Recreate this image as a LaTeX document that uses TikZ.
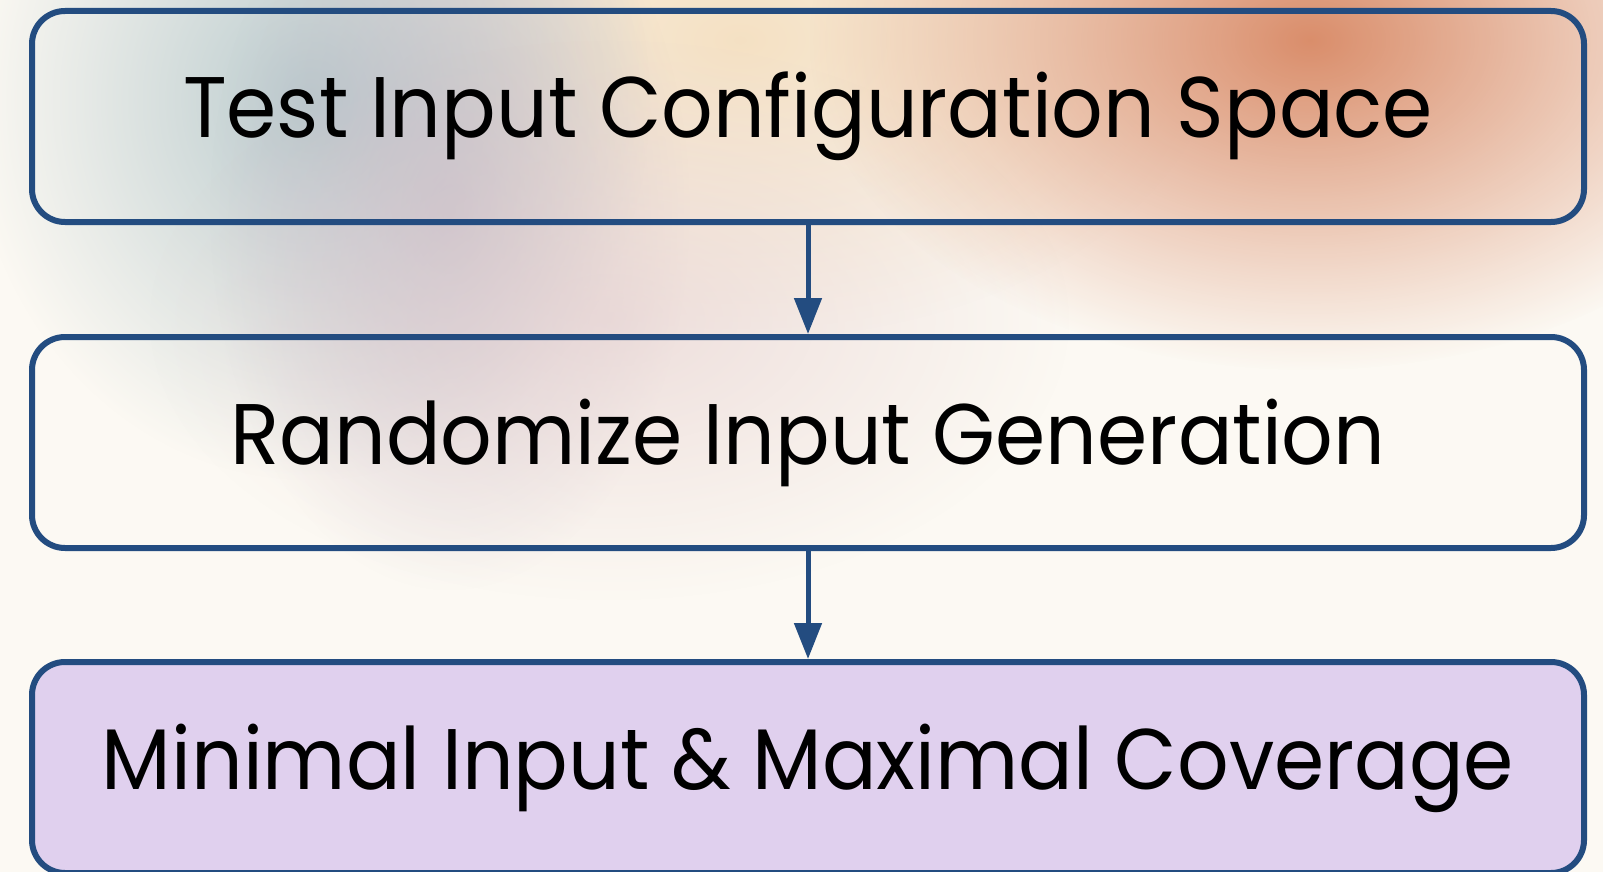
\documentclass[tikz,border=0pt]{standalone}
\usepackage{fontspec}
\setmainfont[FakeStretch=0.94]{Poppins}
\usetikzlibrary{arrows.meta,fadings}

\definecolor{paper}{RGB}{252,249,243}
\definecolor{frame}{RGB}{35,76,128}
\definecolor{lilac}{RGB}{224,208,238}
\definecolor{mist}{RGB}{176,196,200}
\definecolor{mauve}{RGB}{190,178,196}
\definecolor{blush}{RGB}{228,204,204}
\definecolor{sand}{RGB}{244,222,190}
\definecolor{clay}{RGB}{216,136,100}

% radial wash: opaque in the middle, clear towards the rim
\tikzfading[name=softblob, inner color=transparent!0, outer color=transparent!100]

\tikzset{
  stage/.style={draw=frame, line width=6pt, rounded corners=33pt,
    minimum width=1552pt, minimum height=211pt, inner sep=0pt,
    text height=60pt, text depth=17pt, align=center,
    font=\fontsize{86pt}{92pt}\selectfont, text=black},
  flow/.style={draw=frame, line width=5pt, -{Triangle[length=36pt,width=27pt]}},
  glow/.style={path fading=softblob, fill opacity=#1},
}

\begin{document}
\begin{tikzpicture}[x=1pt, y=-1pt]
  % page and soft colour washes behind the top stages
  \fill[paper] (0,0) rectangle (1603,872);
  \useasboundingbox (0,0) rectangle (1603,872);
  \fill[sand, glow=0.9] (740,40) ellipse (480 and 300);
  \fill[mist, glow=0.85] (310,100) ellipse (340 and 380);
  \fill[mauve, glow=0.6] (450,210) ellipse (240 and 380);
  \fill[blush, glow=0.6] (610,320) ellipse (460 and 280);
  \fill[clay, glow=0.95] (1310,40) ellipse (500 and 330);

  % stages
  \node[stage] (space) at (808,116.5) {Test Input Configuration Space};
  \node[stage] (random) at (808,442.5) {Randomize Input Generation};
  \node[stage, fill=lilac] (goal) at (808,767.5) {Minimal Input \& Maximal Coverage};

  % connectors
  \draw[flow] (space.south) -- (random.north);
  \draw[flow] (random.south) -- (goal.north);
\end{tikzpicture}
\end{document}
